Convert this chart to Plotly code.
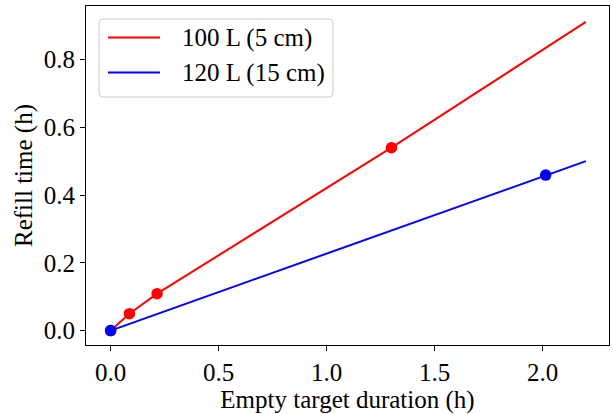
import plotly.graph_objects as go

# Data
red_line_x = [0.0, 0.087, 0.215, 1.3, 2.2]
red_line_y = [0.0, 0.050, 0.109, 0.54, 0.911]
red_pts_x = [0.0, 0.087, 0.215, 1.3]
red_pts_y = [0.0, 0.050, 0.109, 0.54]
blue_line_x = [0.0, 2.2]
blue_line_y = [0.0, 0.50]
blue_pts_x = [0.0, 2.014]
blue_pts_y = [0.0, 0.459]
x_ticks = [0.0, 0.5, 1.0, 1.5, 2.0]
y_ticks = [0.0, 0.2, 0.4, 0.6, 0.8]
series_names = ["100 L (5 cm)", "120 L (15 cm)"]

FONT = "'Liberation Serif', 'Times New Roman', Times, 'DejaVu Serif', serif"
FS = 25
RED = "#ff0000"
BLUE = "#0000ff"
colors = [RED, BLUE]

fig = go.Figure()
fig.add_trace(go.Scatter(x=red_line_x, y=red_line_y, mode="lines",
                         line=dict(color=RED, width=2), name=series_names[0],
                         showlegend=False))
fig.add_trace(go.Scatter(x=blue_line_x, y=blue_line_y, mode="lines",
                         line=dict(color=BLUE, width=2), name=series_names[1],
                         showlegend=False))
fig.add_trace(go.Scatter(x=red_pts_x, y=red_pts_y, mode="markers",
                         marker=dict(color=RED, size=11.5), showlegend=False))
fig.add_trace(go.Scatter(x=blue_pts_x, y=blue_pts_y, mode="markers",
                         marker=dict(color=BLUE, size=11.5), showlegend=False))

axis_common = dict(
    showgrid=False, zeroline=False, showline=True, mirror=True,
    linecolor="black", linewidth=1, ticks="outside", ticklen=5,
    tickwidth=1, tickcolor="black",
    tickfont=dict(family=FONT, size=FS, color="black"),
)

fig.update_xaxes(range=[-0.114, 2.307], tickvals=x_ticks,
                 ticktext=[f"{v:.1f}" for v in x_ticks],
                 title=dict(text="Empty target duration (h)", standoff=6,
                            font=dict(family=FONT, size=FS, color="black")),
                 **axis_common)
fig.update_yaxes(range=[-0.0425, 0.958], tickvals=y_ticks,
                 ticktext=[f"{v:.1f}" for v in y_ticks],
                 title=dict(text="Refill time (h)", standoff=4,
                            font=dict(family=FONT, size=FS, color="black")),
                 **axis_common)

# Manual legend (matplotlib style) in paper coordinates
L, R, T, B = 86, 4, 6, 69
W, H = 613, 414
pw, ph = W - L - R, H - T - B


def px(x):
    return (x - L) / pw


def py(y):
    return (H - B - y) / ph


bx0, by0, bx1, by1 = 99, 19, 333, 97
rad = 4
rx, ry = rad / pw, rad / ph
x0, x1, y0, y1 = px(bx0), px(bx1), py(by0), py(by1)
path = (f"M{x0+rx},{y0} L{x1-rx},{y0} Q{x1},{y0} {x1},{y0-ry} "
        f"L{x1},{y1+ry} Q{x1},{y1} {x1-rx},{y1} L{x0+rx},{y1} "
        f"Q{x0},{y1} {x0},{y1+ry} L{x0},{y0-ry} Q{x0},{y0} {x0+rx},{y0} Z")
shapes = [dict(type="path", path=path, xref="paper", yref="paper",
               fillcolor="rgba(255,255,255,0.8)", line=dict(color="#cccccc", width=1),
               layer="above")]
annotations = []
row_y = [37.5, 72.5]
for name, col, ry_ in zip(series_names, colors, row_y):
    shapes.append(dict(type="line", xref="paper", yref="paper",
                       x0=px(108), x1=px(160), y0=py(ry_), y1=py(ry_),
                       line=dict(color=col, width=2), layer="above"))
    annotations.append(dict(text=name, xref="paper", yref="paper",
                            x=px(180), y=py(ry_), xanchor="left", yanchor="middle",
                            showarrow=False,
                            font=dict(family=FONT, size=FS, color="black")))

fig.update_layout(
    width=W, height=H,
    margin=dict(l=L, r=R, t=T, b=B),
    plot_bgcolor="white", paper_bgcolor="white",
    font=dict(family=FONT, size=FS, color="black"),
    shapes=shapes, annotations=annotations,
    showlegend=False,
)

fig.write_html("out.html")
